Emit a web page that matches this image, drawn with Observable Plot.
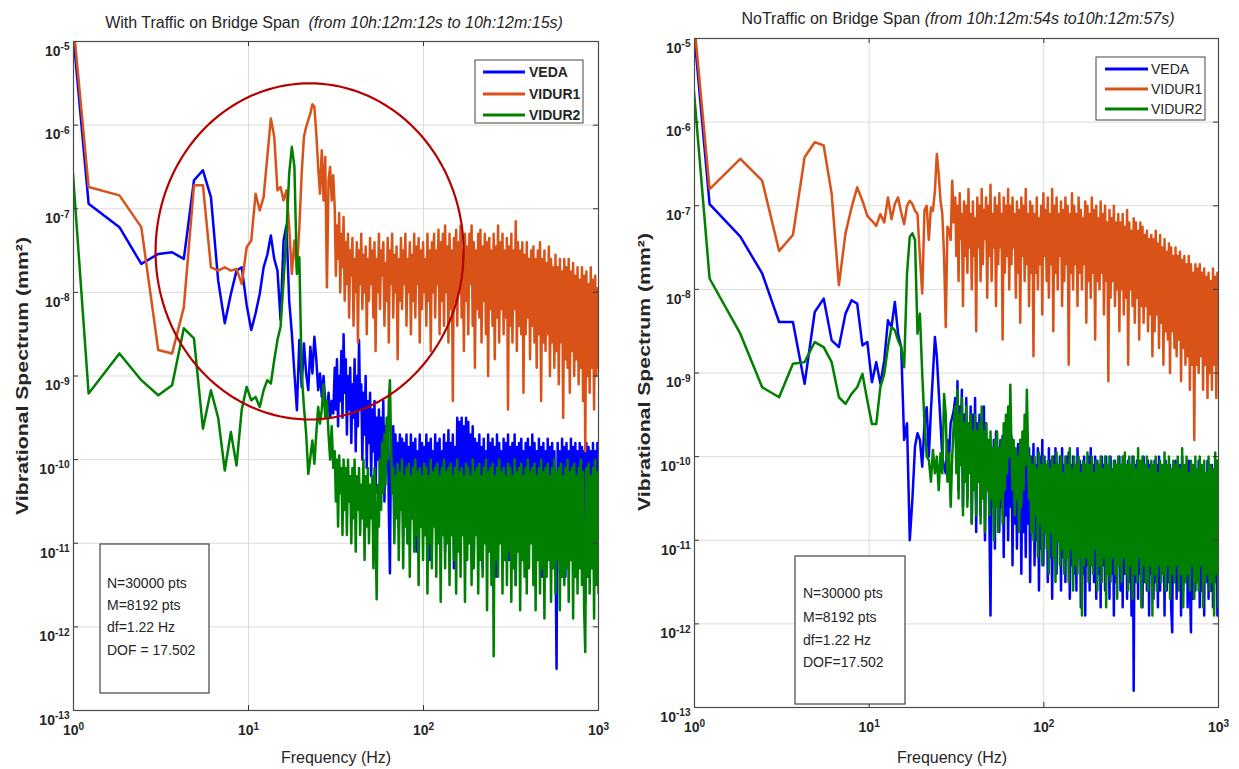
<!DOCTYPE html>
<html><head><meta charset="utf-8">
<script src="https://cdn.jsdelivr.net/npm/d3@7"></script>
<script src="https://cdn.jsdelivr.net/npm/@observablehq/plot@0.6"></script>
<style>
body{margin:0;background:#fff;font-family:"Liberation Sans",Arial,sans-serif;}
#wrap{position:relative;width:1239px;height:769px;overflow:hidden;background:#fff;}
.panel{position:absolute;top:0;}
#overlay{position:absolute;left:0;top:0;}
</style></head>
<body><div id="wrap"></div>
<script>
// ---------- DATA (values are log10 of the spectrum, mm^2) ----------
const DF = 0.61;                       // frequency step (Hz)
const SERIES = ["VEDA", "VIDUR1", "VIDUR2"];
const COLORS = ["#0000ff", "#d95319", "#008000"];
const X_TICKS = [1, 10, 100, 1000];
const Y_EXP = [-13, -12, -11, -10, -9, -8, -7, -6, -5];

// low band: k = 1..50  (f = k*DF)
const leftVedaLow = [0,-6.94,-7.22,-7.66,-7.54,-7.52,-7.60,-6.66,-6.54,-6.86,
 -7.86,-8.37,-8.02,-7.74,-7.70,-8.15,-8.45,-8.25,-8.02,-7.70,
 -7.55,-7.32,-7.60,-7.74,-8.33,-7.38,-7.20,-8.10,-8.49,-8.97,
 -9.41,-8.57,-9.13,-8.61,-8.97,-9.17,-8.65,-8.97,-8.53,-8.80,
 -9.17,-8.97,-9.25,-9.00,-9.30,-9.45,-9.20,-9.50,-9.30,-9.45];
const leftVidur1Low = [0,-6.74,-6.84,-7.22,-8.69,-8.73,-8.18,-6.72,-6.72,-7.70,
 -7.74,-7.70,-7.74,-7.72,-7.90,-7.46,-7.38,-6.82,-7.02,-6.86,
 -6.38,-5.92,-6.14,-6.78,-6.74,-6.90,-6.78,-7.22,-7.78,-7.38,
 -7.74,-7.22,-6.58,-6.14,-6.02,-5.94,-5.86,-5.75,-5.78,-6.10,
 -6.50,-6.82,-6.30,-6.90,-6.38,-7.94,-6.66,-6.50,-6.90,-6.60];
const leftVidur2Low = [-0.36,-9.21,-8.73,-9.05,-9.23,-9.11,-8.43,-8.55,-9.63,-9.17,
 -9.50,-10.13,-9.67,-10.07,-9.40,-9.13,-9.29,-9.25,-9.37,-9.17,
 -9.05,-9.09,-8.81,-8.57,-8.41,-7.86,-7.30,-6.58,-6.26,-6.50,
 -7.78,-7.58,-8.97,-9.37,-9.69,-10.17,-9.97,-9.77,-10.05,-9.69,
 -9.37,-9.57,-9.40,-9.10,-9.50,-9.30,-9.70,-10.00,-9.60,-10.10];
const rightVedaLow = [0,-6.98,-7.37,-7.81,-8.39,-8.39,-9.13,-8.27,-8.11,-8.61,
 -8.69,-8.29,-8.13,-8.17,-8.67,-8.63,-9.11,-8.87,-9.13,-8.85,
 -8.37,-8.45,-8.15,-8.53,-8.69,-9.80,-9.60,-11.00,-10.50,-9.88,
 -9.72,-9.80,-10.12,-9.60,-9.41,-10.00,-9.45,-9.01,-8.57,-8.80,
 -9.21,-9.60,-10.00,-10.12,-10.20,-9.80,-10.00,-9.60,-9.53,-9.45];
const rightVidur1Low = [0,-6.80,-6.44,-6.70,-7.54,-7.35,-6.42,-6.24,-6.28,-6.86,
 -7.95,-7.33,-7.02,-6.78,-6.94,-7.12,-7.18,-7.24,-7.10,-7.20,
 -6.90,-7.16,-6.98,-6.90,-7.08,-7.22,-7.00,-6.94,-6.98,-7.06,
 -7.10,-7.61,-8.05,-7.05,-7.00,-7.41,-7.02,-7.06,-6.82,-6.38,
 -6.62,-6.94,-7.10,-7.60,-8.45,-7.25,-7.29,-7.41,-6.70,-7.20];
const rightVidur2Low = [-0.35,-7.87,-8.53,-9.17,-9.29,-8.89,-8.87,-8.63,-8.69,-8.87,
 -9.29,-9.37,-9.25,-9.17,-9.01,-9.33,-9.61,-9.61,-9.17,-9.01,
 -8.69,-8.45,-8.49,-8.61,-8.69,-8.93,-7.81,-7.37,-7.33,-7.41,
 -8.53,-8.29,-9.01,-9.60,-10.00,-10.04,-10.30,-9.92,-10.20,-10.00,
 -10.40,-9.96,-10.20,-9.25,-9.50,-10.30,-9.96,-10.60,-10.00,-9.60];

// high band: 240 samples, 31 Hz .. 1000 Hz (log spaced)
const leftVedaHigh = [
 -8.9,-9.4,-8.8,-9.6,-9.0,-9.3,-8.7,-9.5,-8.5,-9.2,
 -8.8,-9.7,-9.0,-9.4,-8.9,-9.8,-9.1,-9.5,-8.8,-9.9,
 -9.0,-9.6,-8.57,-9.4,-9.1,-10.0,-9.2,-9.7,-9.0,-10.1,
 -9.3,-9.8,-9.2,-10.2,-9.4,-9.9,-9.3,-10.4,-9.5,-10.0,
 -9.4,-10.3,-9.5,-9.9,-9.3,-10.5,-9.6,-10.1,-9.5,-10.6,
 -11.36,-9.7,-10.2,-9.6,-10.6,-9.7,-10.3,-9.8,-10.8,-9.7,
 -10.4,-9.75,-10.9,-9.8,-10.3,-9.7,-11.0,-9.85,-10.5,-9.7,
 -10.7,-9.8,-10.4,-9.75,-11.1,-9.9,-10.5,-9.7,-10.8,-9.8,
 -10.3,-9.85,-10.9,-9.7,-10.5,-9.8,-11.2,-9.75,-10.6,-9.9,
 -10.4,-9.7,-11.0,-9.8,-10.5,-9.75,-10.8,-9.9,-10.4,-9.7,
 -11.1,-9.8,-10.6,-9.65,-10.9,-9.8,-10.5,-9.7,-11.3,-9.85,
 -10.6,-9.5,-10.4,-9.55,-10.9,-9.5,-10.5,-9.6,-11.0,-9.5,
 -10.6,-9.55,-10.8,-9.7,-10.4,-9.6,-11.2,-9.75,-10.6,-9.8,
 -10.9,-9.7,-10.5,-9.85,-11.3,-9.75,-10.6,-9.9,-10.8,-9.7,
 -10.5,-9.8,-11.0,-9.75,-10.6,-9.85,-11.4,-9.7,-10.7,-9.8,
 -10.5,-9.9,-11.1,-9.75,-10.7,-9.8,-10.9,-9.7,-11.2,-9.85,
 -10.6,-9.8,-10.9,-9.7,-11.5,-9.85,-10.7,-9.8,-11.0,-9.75,
 -10.6,-9.9,-11.2,-9.8,-10.7,-9.75,-11.0,-9.85,-10.8,-9.7,
 -11.3,-9.8,-10.7,-9.9,-11.1,-9.75,-10.8,-9.85,-11.4,-9.8,
 -10.7,-9.9,-11.0,-9.75,-10.8,-9.85,-11.3,-9.8,-10.9,-9.9,
 -11.0,-12.5,-9.8,-10.8,-9.9,-11.2,-9.75,-10.9,-9.85,-11.4,
 -9.8,-10.8,-9.9,-11.1,-9.75,-10.9,-9.85,-11.3,-9.8,-10.8,
 -9.9,-11.2,-9.8,-10.9,-9.85,-11.0,-9.9,-11.7,-9.8,-10.9,
 -9.85,-11.3,-9.9,-10.8,-9.8,-11.1,-9.9,-11.4,-9.8,-10.9];
const leftVidur1High = [
 -7.0,-7.8,-7.2,-7.6,-7.05,-8.0,-7.3,-7.7,-7.1,-8.1,
 -7.4,-7.9,-7.3,-8.3,-7.5,-7.8,-7.35,-8.4,-7.6,-8.0,
 -7.4,-8.6,-7.5,-7.9,-7.3,-8.2,-7.55,-8.0,-7.45,-8.5,
 -7.6,-8.1,-7.35,-7.9,-7.5,-8.3,-7.4,-8.7,-7.6,-8.0,
 -7.3,-8.2,-7.5,-7.8,-7.4,-8.4,-7.65,-8.1,-7.35,-8.6,
 -7.5,-7.9,-7.3,-8.3,-7.55,-8.0,-7.45,-8.8,-7.6,-8.1,
 -7.35,-8.2,-7.5,-7.9,-7.3,-8.4,-7.6,-8.0,-7.4,-8.5,
 -7.55,-8.1,-7.3,-8.3,-7.45,-7.9,-7.35,-8.6,-7.5,-8.2,
 -7.4,-8.0,-7.6,-8.4,-7.3,-8.1,-7.5,-8.7,-7.4,-8.0,
 -7.3,-8.3,-7.5,-7.9,-7.25,-8.5,-7.4,-8.1,-7.3,-8.4,
 -7.2,-8.0,-7.45,-8.6,-7.3,-8.2,-7.5,-9.3,-7.35,-8.1,
 -7.25,-8.4,-7.4,-8.0,-7.2,-8.3,-7.5,-8.7,-7.3,-8.1,
 -7.45,-8.5,-7.3,-7.9,-7.2,-8.4,-7.4,-8.9,-7.5,-8.2,
 -7.3,-8.3,-7.25,-8.6,-7.45,-8.1,-7.3,-8.5,-7.4,-9.0,
 -7.35,-8.2,-7.5,-8.4,-7.3,-8.8,-7.45,-8.3,-7.2,-8.6,
 -7.4,-8.2,-7.3,-8.5,-7.5,-8.3,-7.35,-9.4,-7.45,-8.4,
 -7.3,-8.6,-7.5,-8.2,-7.15,-8.7,-7.4,-8.4,-7.5,-8.5,
 -7.4,-9.2,-7.55,-8.5,-7.4,-8.3,-7.6,-8.8,-7.5,-8.4,
 -7.45,-8.6,-7.6,-8.9,-7.5,-8.5,-7.4,-9.3,-7.6,-8.6,
 -7.5,-8.7,-7.65,-8.5,-7.45,-9.0,-7.6,-8.6,-7.7,-8.9,
 -7.55,-8.7,-7.7,-9.1,-7.6,-8.6,-7.75,-9.5,-7.6,-8.8,
 -7.7,-8.9,-7.6,-9.2,-7.75,-8.7,-7.65,-9.0,-7.8,-8.8,
 -7.7,-9.1,-7.85,-8.9,-7.7,-9.3,-7.8,-9.9,-7.75,-9.0,
 -7.9,-9.2,-7.7,-8.9,-7.85,-9.4,-7.8,-9.0,-7.95,-8.9];
const leftVidur2High = [
 -9.9,-10.5,-10.0,-10.8,-9.95,-10.4,-10.1,-10.9,-10.0,-10.6,
 -10.1,-10.9,-10.0,-10.5,-10.2,-11.0,-10.1,-10.7,-10.0,-11.1,
 -10.2,-10.6,-10.1,-10.9,-10.3,-10.7,-10.0,-11.2,-10.2,-10.8,
 -10.1,-11.0,-10.3,-10.7,-10.2,-11.3,-10.1,-10.9,-11.67,-10.3,
 -10.8,-10.0,-10.6,-9.8,-10.4,-9.7,-10.3,-9.5,-10.0,-9.3,
 -9.05,-9.8,-10.4,-10.1,-11.0,-10.2,-10.7,-10.05,-11.2,-10.15,
 -10.6,-10.0,-11.3,-10.2,-10.8,-10.1,-11.0,-10.05,-11.4,-10.2,
 -10.7,-10.1,-11.1,-10.0,-10.9,-10.15,-11.5,-10.1,-10.8,-10.2,
 -11.2,-10.05,-10.9,-10.1,-11.6,-10.2,-11.0,-10.0,-11.3,-10.15,
 -10.8,-10.1,-11.4,-10.05,-11.0,-10.2,-11.7,-10.1,-10.9,-10.0,
 -11.3,-10.15,-11.0,-10.1,-11.5,-10.05,-10.9,-10.2,-11.2,-10.1,
 -11.6,-10.0,-11.1,-10.15,-11.4,-10.1,-10.9,-10.2,-11.7,-10.05,
 -11.2,-10.1,-11.0,-10.2,-11.5,-10.0,-11.3,-10.15,-10.9,-10.1,
 -11.6,-10.05,-11.2,-10.2,-11.4,-10.1,-11.0,-10.0,-11.8,-10.15,
 -11.1,-10.1,-11.5,-10.05,-12.35,-10.2,-11.2,-10.1,-11.4,-10.0,
 -11.0,-10.15,-11.6,-10.1,-11.2,-10.2,-11.5,-10.05,-11.1,-10.1,
 -11.7,-10.2,-11.3,-10.0,-11.5,-10.15,-11.1,-10.1,-11.8,-10.05,
 -11.2,-10.2,-11.4,-10.1,-11.6,-10.0,-11.3,-10.15,-11.0,-10.1,
 -11.5,-10.05,-11.8,-10.2,-11.2,-10.1,-11.6,-10.0,-11.3,-10.15,
 -11.9,-10.1,-11.4,-10.05,-11.2,-10.2,-11.7,-10.1,-11.3,-10.0,
 -11.6,-10.15,-11.2,-10.1,-11.8,-10.05,-11.4,-10.2,-11.5,-10.1,
 -11.3,-10.0,-11.7,-10.15,-11.2,-10.1,-11.9,-10.05,-11.4,-10.2,
 -11.6,-10.1,-11.3,-10.0,-11.5,-10.15,-11.8,-12.3,-10.1,-11.4,
 -10.05,-11.6,-10.2,-11.3,-10.1,-11.9,-10.0,-11.5,-10.15,-11.6];
const rightVedaHigh = [
 -9.3,-10.0,-9.1,-10.4,-9.4,-9.9,-9.2,-10.6,-9.5,-10.1,
 -9.3,-10.5,-9.6,-10.0,-9.4,-10.8,-9.5,-10.2,-9.3,-10.9,
 -9.6,-10.3,-9.5,-10.7,-9.7,-10.2,-9.4,-11.0,-9.6,-10.4,
 -9.8,-10.8,-11.9,-10.0,-10.6,-9.8,-11.1,-9.7,-10.5,-9.9,
 -10.9,-9.8,-10.6,-9.75,-11.2,-9.9,-10.7,-9.8,-11.0,-10.0,
 -10.6,-9.75,-11.3,-9.9,-10.8,-10.0,-11.1,-9.85,-10.7,-9.8,
 -11.4,-9.9,-10.9,-10.0,-11.2,-9.8,-10.8,-9.9,-11.5,-10.0,
 -10.9,-9.85,-11.3,-10.1,-11.0,-9.9,-11.6,-10.0,-11.1,-9.8,
 -11.3,-10.0,-10.9,-10.1,-11.5,-9.9,-11.2,-10.05,-11.7,-10.0,
 -11.1,-9.9,-11.4,-10.1,-11.0,-10.0,-11.6,-9.9,-11.2,-10.1,
 -11.5,-10.0,-11.1,-9.95,-11.7,-10.1,-11.3,-10.0,-11.4,-10.1,
 -11.6,-9.9,-11.2,-10.05,-11.8,-10.1,-11.4,-10.0,-11.9,-10.1,
 -11.3,-10.0,-11.6,-9.9,-11.2,-10.1,-11.5,-10.0,-11.7,-10.05,
 -11.4,-10.1,-11.8,-10.0,-11.3,-10.1,-11.6,-10.0,-11.2,-10.1,
 -11.7,-10.0,-11.4,-10.15,-11.9,-10.05,-11.5,-10.1,-11.3,-10.0,
 -11.6,-10.1,-11.8,-10.0,-11.4,-10.15,-11.7,-10.05,-11.5,-10.1,
 -11.9,-10.0,-12.8,-10.1,-11.5,-10.05,-11.7,-10.2,-11.4,-10.1,
 -11.8,-10.0,-11.5,-10.15,-11.6,-10.05,-11.9,-10.1,-11.4,-10.2,
 -11.7,-10.05,-11.5,-10.1,-11.8,-10.0,-11.6,-10.15,-11.4,-10.1,
 -11.9,-10.05,-11.6,-10.2,-11.5,-10.1,-11.8,-12.1,-10.1,-11.5,
 -10.05,-11.7,-10.15,-11.4,-10.1,-11.9,-10.0,-11.6,-10.2,-11.5,
 -10.1,-11.8,-10.05,-11.5,-12.1,-10.15,-11.7,-10.1,-11.6,-10.2,
 -11.5,-10.05,-11.8,-10.15,-11.6,-10.1,-11.9,-10.2,-11.5,-10.05,
 -11.7,-10.15,-11.6,-10.1,-11.8,-10.2,-11.5,-10.05,-11.9,-10.15];
const rightVidur1High = [
 -6.9,-7.6,-7.0,-7.9,-6.85,-7.4,-7.1,-8.2,-6.95,-7.6,
 -7.0,-7.8,-6.8,-7.5,-7.1,-8.0,-6.95,-7.6,-7.15,-8.5,
 -6.9,-7.5,-7.0,-7.9,-6.8,-7.7,-7.05,-7.4,-6.9,-8.1,
 -7.0,-7.6,-6.75,-7.9,-7.1,-7.5,-6.9,-8.2,-7.0,-7.7,
 -6.85,-7.5,-7.1,-8.6,-6.9,-7.8,-7.0,-7.6,-6.8,-8.0,
 -7.0,-7.7,-6.9,-7.5,-7.1,-8.1,-6.95,-7.8,-7.05,-8.4,
 -6.9,-7.6,-7.0,-7.9,-6.8,-7.7,-7.1,-8.2,-6.95,-7.8,
 -7.0,-8.8,-7.1,-7.8,-6.9,-8.0,-7.15,-7.7,-7.0,-8.3,
 -6.85,-7.6,-7.05,-7.9,-6.9,-8.1,-7.1,-7.7,-6.8,-8.5,
 -7.0,-7.8,-6.9,-8.0,-7.1,-7.6,-6.95,-8.2,-7.05,-7.9,
 -6.9,-7.7,-7.0,-8.9,-7.1,-7.8,-6.85,-8.0,-7.0,-7.7,
 -7.1,-8.2,-6.9,-7.8,-7.05,-8.0,-7.15,-7.7,-6.95,-8.4,
 -7.0,-7.9,-7.1,-8.1,-6.9,-7.8,-7.05,-8.6,-7.0,-7.9,
 -7.15,-8.0,-6.95,-7.8,-7.1,-8.3,-7.0,-7.9,-7.2,-9.1,
 -7.05,-8.1,-7.15,-7.9,-7.0,-8.2,-7.2,-8.0,-7.1,-8.5,
 -7.2,-8.0,-7.1,-8.3,-7.25,-8.1,-7.05,-8.9,-7.2,-8.0,
 -7.3,-8.2,-7.15,-8.4,-7.2,-8.1,-7.3,-8.6,-7.2,-8.2,
 -7.25,-8.4,-7.35,-8.2,-7.3,-8.5,-7.4,-8.3,-7.35,-8.8,
 -7.4,-8.5,-7.3,-8.3,-7.45,-8.7,-7.35,-8.4,-7.5,-8.9,
 -7.4,-8.5,-7.55,-8.6,-7.45,-9.0,-7.5,-8.5,-7.6,-8.7,
 -7.5,-8.8,-7.6,-8.6,-7.55,-9.1,-7.65,-8.7,-7.6,-8.9,
 -7.7,-8.8,-7.6,-9.2,-7.7,-8.9,-7.8,-9.8,-7.7,-8.9,
 -7.75,-9.0,-7.7,-8.8,-7.8,-9.2,-7.75,-8.9,-7.85,-9.3,
 -7.8,-9.0,-7.9,-9.2,-7.75,-8.9,-7.85,-9.3,-7.8,-8.9];
const rightVidur2High = [
 -9.4,-10.2,-9.2,-10.5,-9.5,-10.1,-9.3,-10.7,-9.6,-10.3,
 -9.4,-10.6,-9.6,-10.2,-9.5,-10.8,-9.7,-10.4,-9.5,-10.7,
 -9.7,-10.3,-9.6,-10.8,-9.4,-10.5,-9.7,-10.9,-9.6,-10.4,
 -9.8,-10.7,-9.7,-10.5,-9.9,-11.0,-9.8,-10.6,-9.7,-10.9,
 -9.9,-10.5,-9.8,-10.8,-9.6,-10.4,-9.5,-10.2,-9.4,-10.0,
 -9.14,-9.9,-10.4,-9.8,-10.7,-9.9,-10.5,-10.0,-10.9,-9.8,
 -10.6,-9.7,-10.4,-9.5,-10.1,-9.2,-9.9,-10.5,-10.0,-10.9,
 -10.1,-11.0,-10.0,-10.7,-10.15,-11.2,-9.95,-10.8,-10.1,-11.3,
 -10.0,-10.9,-10.1,-11.1,-10.05,-11.4,-10.15,-10.9,-10.0,-11.2,
 -10.1,-11.5,-9.95,-11.0,-10.1,-11.3,-10.0,-11.1,-10.2,-11.4,
 -10.0,-11.2,-10.1,-11.5,-9.9,-11.1,-10.15,-11.6,-10.0,-11.3,
 -10.1,-11.4,-10.0,-11.2,-10.2,-11.9,-10.05,-11.3,-10.1,-11.2,
 -9.95,-11.5,-10.1,-11.3,-10.0,-11.4,-10.2,-11.1,-10.05,-11.6,
 -10.1,-11.3,-10.0,-11.5,-10.15,-11.2,-10.0,-11.8,-10.1,-11.4,
 -10.0,-11.5,-10.15,-11.2,-10.05,-11.4,-10.1,-11.7,-10.0,-11.3,
 -10.1,-11.5,-10.0,-11.2,-9.95,-11.4,-10.1,-11.6,-10.0,-11.3,
 -10.1,-11.7,-10.0,-11.4,-10.15,-11.5,-9.9,-11.2,-10.05,-11.8,
 -10.0,-11.3,-10.1,-11.5,-10.0,-11.6,-10.15,-11.3,-10.05,-11.9,
 -10.1,-11.4,-10.0,-11.6,-10.2,-11.3,-10.05,-11.5,-10.1,-11.4,
 -9.95,-11.6,-10.1,-11.3,-10.0,-11.7,-10.15,-11.4,-10.05,-11.5,
 -10.1,-11.3,-10.0,-11.6,-10.15,-11.4,-9.9,-11.8,-10.1,-11.5,
 -10.0,-11.4,-10.2,-11.6,-10.05,-11.3,-10.1,-11.7,-10.0,-11.5,
 -10.15,-11.6,-10.0,-11.3,-10.1,-11.8,-10.05,-11.5,-10.2,-11.4,
 -10.0,-11.6,-10.1,-11.5,-10.15,-11.9,-9.95,-11.4,-10.05,-11.8];

// annotation ellipse (in log10 decades)
const ELLIPSE = {logF: 1.349, logV: -7.51, rF: 0.88, rV: 2.01};

// ---------- BUILD ----------
const lowFreq = d3.range(1, 51).map(k => k * DF);
const N_HIGH = 240, F_HIGH0 = 51 * DF, F_HIGH1 = 1000;
const highFreq = d3.range(N_HIGH).map(i => F_HIGH0 * Math.pow(F_HIGH1 / F_HIGH0, i / (N_HIGH - 1)));
function rows(low, high) {
  const a = low.map((e, i) => ({f: lowFreq[i], v: Math.pow(10, e)}));
  const b = high.slice(0, N_HIGH).map((e, i) => ({f: highFreq[i], v: Math.pow(10, e)}));
  return a.concat(b);
}
const leftData = [rows(leftVedaLow, leftVedaHigh), rows(leftVidur1Low, leftVidur1High), rows(leftVidur2Low, leftVidur2High)];
const rightData = [rows(rightVedaLow, rightVedaHigh), rows(rightVidur1Low, rightVidur1High), rows(rightVidur2Low, rightVidur2High)];
const ellipsePts = d3.range(0, 161).map(i => {
  const t = i / 160 * 2 * Math.PI;
  return {f: Math.pow(10, ELLIPSE.logF + ELLIPSE.rF * Math.cos(t)), v: Math.pow(10, ELLIPSE.logV + ELLIPSE.rV * Math.sin(t))};
});

const FONT = '"Liberation Sans", Arial, Helvetica, sans-serif';
const INK = "#262626";

function panel(cfg) {
  const {w, h, ml, mr, mt, mb, data, ellipse} = cfg;
  const iw = w - ml - mr, ih = h - mt - mb;
  const yTicks = Y_EXP.map(e => Math.pow(10, e));
  const marks = [
    Plot.gridX(X_TICKS, {stroke: "#dcdcdc", strokeOpacity: 1, strokeWidth: 1}),
    Plot.gridY(yTicks, {stroke: "#dcdcdc", strokeOpacity: 1, strokeWidth: 1}),
  ];
  data.forEach((d, j) => marks.push(Plot.line(d, {x: "f", y: "v", stroke: COLORS[j], strokeWidth: 2.5, clip: true})));
  if (ellipse) marks.push(Plot.line(ellipse, {x: "f", y: "v", stroke: "#b40000", strokeWidth: 2.2}));
  marks.push(
    Plot.tickY(yTicks, {y: d => d, insetRight: iw - 5, stroke: "#333"}),
    Plot.tickY(yTicks, {y: d => d, insetLeft: iw - 5, stroke: "#333"}),
    Plot.tickX(X_TICKS, {x: d => d, insetTop: ih - 5, stroke: "#333"}),
    Plot.tickX(X_TICKS, {x: d => d, insetBottom: ih - 5, stroke: "#333"}),
    Plot.frame({stroke: "#4a4a4a", strokeWidth: 1.2}),
    Plot.axisX(X_TICKS, {tickSize: 0, tickPadding: 15, fontSize: 14, label: null,
      tickFormat: d => "10^" + Math.round(Math.log10(d))}),
    Plot.axisY(yTicks, {tickSize: 0, tickPadding: 4, fontSize: 14, label: null,
      tickFormat: d => "10^" + Math.round(Math.log10(d))})
  );
  const svg = Plot.plot({
    width: w, height: h, marginLeft: ml, marginRight: mr, marginTop: mt, marginBottom: mb,
    style: {background: "transparent", fontFamily: FONT, color: INK},
    x: {type: "log", domain: [1, 1000]},
    y: {type: "log", domain: [1e-13, 1e-5]},
    marks
  });
  const s = d3.select(svg);
  s.selectAll('g[aria-label="x-axis tick label"], g[aria-label="y-axis tick label"]')
    .attr("font-weight", "bold").attr("font-size", 14).attr("fill", INK);
  s.selectAll('g[aria-label="x-axis tick label"] text, g[aria-label="y-axis tick label"] text').each(function () {
    const parts = this.textContent.split("^");
    const t = d3.select(this);
    t.text(null);
    t.append("tspan").text(parts[0]);
    t.append("tspan").attr("dy", "-0.55em").attr("font-size", "0.72em").text(parts[1]);
  });
  s.selectAll('g[aria-label="y-axis tick label"] text').attr("dy", "0.7em");
  return svg;
}

const wrap = d3.select("#wrap");
const leftDiv = wrap.append("div").attr("class", "panel").style("left", "0px");
leftDiv.node().appendChild(panel({w: 620, h: 769, ml: 73, mr: 22, mt: 41, mb: 59, data: leftData, ellipse: ellipsePts}));
const rightDiv = wrap.append("div").attr("class", "panel").style("left", "620px");
rightDiv.node().appendChild(panel({w: 619, h: 769, ml: 74, mr: 21, mt: 38, mb: 62, data: rightData}));

// ---------- TEXT OVERLAY ----------
const ov = wrap.append("svg").attr("id", "overlay").attr("width", 1239).attr("height", 769)
  .attr("font-family", FONT).attr("fill", INK);

function title(x, y, normal, italic) {
  const t = ov.append("text").attr("x", x).attr("y", y).attr("text-anchor", "middle").attr("font-size", 16);
  t.append("tspan").text(normal);
  t.append("tspan").attr("font-style", "italic").text(italic);
}
title(334, 28, "With Traffic on Bridge Span\u00a0\u00a0", "(from 10h:12m:12s to 10h:12m:15s)");
title(958, 24, "NoTraffic on Bridge Span ", "(from 10h:12m:54s to10h:12m:57s)");

function ylabel(x, y) {
  ov.append("text").attr("transform", `translate(${x},${y}) rotate(-90)`).attr("text-anchor", "middle")
    .attr("dy", "0.35em").attr("font-size", 17).attr("font-weight", "bold")
    .attr("textLength", 278).attr("lengthAdjust", "spacingAndGlyphs").text("Vibrational Spectrum (mm\u00b2)");
}
ylabel(22, 376); ylabel(644, 372);

ov.append("text").attr("x", 336).attr("y", 763).attr("text-anchor", "middle").attr("font-size", 16).text("Frequency (Hz)");
ov.append("text").attr("x", 952).attr("y", 763).attr("text-anchor", "middle").attr("font-size", 16).text("Frequency (Hz)");

function legend(x0, y0, w, h, lx1, lx2, tx, ys, bold) {
  ov.append("rect").attr("x", x0).attr("y", y0).attr("width", w).attr("height", h)
    .attr("fill", "#fff").attr("stroke", "#444").attr("stroke-width", 1);
  SERIES.forEach((s, i) => {
    ov.append("line").attr("x1", lx1).attr("x2", lx2).attr("y1", ys[i]).attr("y2", ys[i])
      .attr("stroke", COLORS[i]).attr("stroke-width", 3);
    ov.append("text").attr("x", tx).attr("y", ys[i]).attr("dy", "0.36em").attr("font-size", 14)
      .attr("font-weight", bold ? "bold" : "normal").text(s);
  });
}
legend(475, 60, 108, 63, 483, 525, 529, [72, 94, 115], true);
legend(1096, 57, 109, 63, 1105, 1148, 1151, [69, 89, 109], false);

function infoBox(x0, y0, w, h, tx, ys, lines) {
  ov.append("rect").attr("x", x0).attr("y", y0).attr("width", w).attr("height", h)
    .attr("fill", "#fff").attr("stroke", "#444").attr("stroke-width", 1.2);
  lines.forEach((l, i) => ov.append("text").attr("x", tx).attr("y", ys[i]).attr("font-size", 14).text(l));
}
infoBox(100, 544, 109, 149, 107, [588, 610, 632, 655], ["N=30000 pts", "M=8192 pts", "df=1.22 Hz", "DOF = 17.502"]);
infoBox(795, 556, 110, 148, 803, [598, 622, 645, 667], ["N=30000 pts", "M=8192 pts", "df=1.22 Hz", "DOF=17.502"]);
</script>
</body></html>
